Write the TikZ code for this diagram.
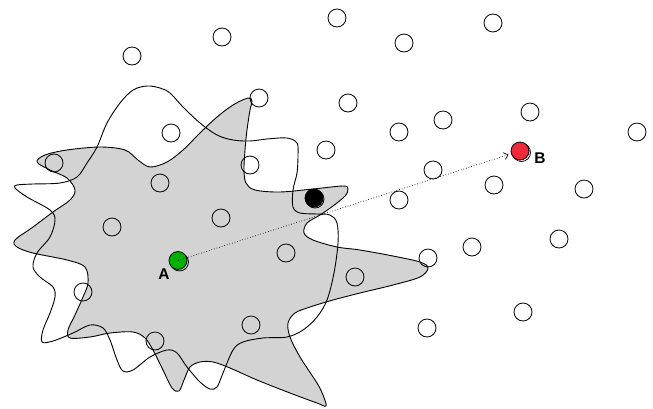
\documentclass[tikz,border=0pt]{standalone}
\usepackage{fontspec}
\setmainfont{Liberation Sans}
\usetikzlibrary{arrows.meta}
\definecolor{blobgrey}{RGB}{211,211,211}
\definecolor{agreen}{RGB}{0,178,0}
\definecolor{bred}{RGB}{240,40,56}
\tikzset{
  site/.style={circle,draw=black,line width=0.8pt,minimum size=18pt,inner sep=0pt},
  ghost/.style={circle,draw=black,line width=0.8pt,minimum size=18pt,inner sep=0pt},
  blob/.style={fill=blobgrey,draw=black,line width=0.9pt},
  wavy/.style={draw=black,line width=0.9pt},
  lbl/.style={font=\fontsize{15.5}{17}\selectfont\bfseries,inner sep=0pt},
  route/.style={dotted,line width=0.7pt,-{Straight Barb[length=4pt,width=7pt]}}
}
\begin{document}
\begin{tikzpicture}[x=1pt,y=-1pt]
\useasboundingbox (0,0) rectangle (653,408);
\fill[white] (0,0) rectangle (653,408);
% grey filled blob
\path[blob] plot[smooth cycle,tension=0.55] coordinates {
(37,162) (50,170) (67,178) (75,190) (70,200) (53,212) (33,227) (15,240) (17,247)
(33,253) (67,260) (85,267) (88,283) (83,297) (75,315) (68,330) (70,338) (90,337)
(110,333) (133,332) (145,338) (153,350) (163,370) (172,388) (179,391) (184,380)
(190,367) (200,362) (213,362) (230,368) (257,380) (290,393) (317,403) (326,406)
(323,395) (317,383) (300,357) (290,337) (288,323) (295,313) (310,307) (333,300)
(360,293) (393,285) (420,277) (428,268) (420,262) (393,256) (360,250) (337,247)
(313,240) (304,233) (307,223) (320,215) (333,206) (345,196) (348,189) (343,186)
(313,189) (280,192) (255,190) (246,183) (244,170) (245,150) (247,130) (250,110)
(252,101) (248,98) (233,105) (217,117) (200,133) (183,150) (167,162) (150,167)
(138,160) (125,150) (100,147) (67,150) (45,155)};
% wavy outline
\path[wavy] plot[smooth cycle,tension=0.55] coordinates {
(17,185) (33,184) (60,183) (77,177) (87,163) (97,147) (107,123) (120,103) (133,90)
(147,86) (160,88) (170,93) (183,107) (200,123) (217,135) (233,140) (250,141)
(267,139) (287,138) (297,143) (298,155) (297,173) (293,190) (293,207) (300,213)
(317,214) (330,215) (337,223) (338,243) (334,273) (327,300) (317,317) (303,330)
(287,337) (263,338) (243,342) (233,350) (223,373) (217,387) (210,389) (200,382)
(187,367) (177,353) (167,350) (150,357) (133,370) (123,371) (117,360) (110,340)
(103,328) (90,325) (73,333) (53,341) (42,342) (43,330) (50,313) (55,297) (53,287)
(40,277) (33,267) (37,253) (50,237) (55,220) (50,210) (27,197) (15,188)};
% plain sites
\foreach \px/\py [count=\i] in {
337/18, 493/23, 222/37, 404/43, 132/56, 259/98, 348/103, 530/112, 171/133,
443/120, 399/132, 637/132, 326/150, 250/165, 54/163, 433/170, 160/183, 494/185,
584/189, 399/200, 221/218, 112/227, 559/239, 472/247, 286/253, 428/258, 355/277,
83/292, 251/325, 523/312, 427/328, 155/341}
  \node[site] (c\i) at (\px,\py) {};
% special sites
\node[ghost] (Ag) at (179.5,262) {};
\node[site,fill=agreen] (A) at (178,260.5) {};
\node[ghost] (Bg) at (521.5,152.5) {};
\node[site,fill=bred] (B) at (520,151) {};
\node[ghost] (Kg) at (315,199) {};
\node[site,fill=black] (K) at (314,198) {};
\node[lbl] (la) at (164,274) {A};
\node[lbl] (lb) at (540,158) {B};
\draw[route,shorten >=12pt] (A.center) -- (B.center);
\end{tikzpicture}
\end{document}
